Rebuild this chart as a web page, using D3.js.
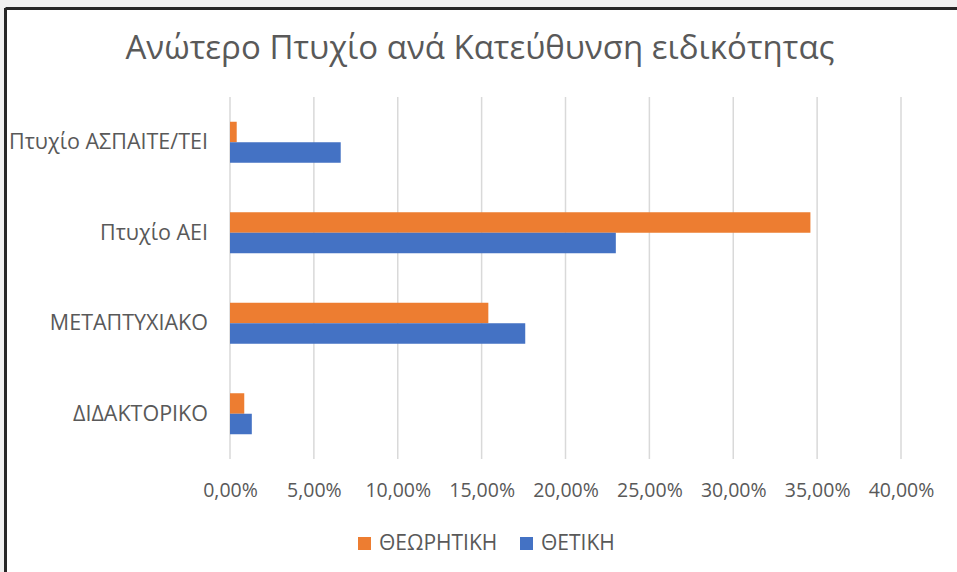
<!DOCTYPE html>
<html>
<head>
<meta charset="utf-8">
<script src="https://cdn.jsdelivr.net/npm/d3@7"></script>
<style>
  body { margin: 0; background: #f0f0f0; }
  svg { display: block; }
  text { font-family: "Open Sans", "Noto Sans", sans-serif; fill: #595959; }
</style>
</head>
<body>
<div id="chart"></div>
<script>
// categories top to bottom
var categories = ["Πτυχίο ΑΣΠΑΙΤΕ/ΤΕΙ", "Πτυχίο ΑΕΙ", "ΜΕΤΑΠΤΥΧΙΑΚΟ", "ΔΙΔΑΚΤΟΡΙΚΟ"];
var seriesNames = ["ΘΕΩΡΗΤΙΚΗ", "ΘΕΤΙΚΗ"];
var theoretikiValues = [0.4, 34.6, 15.4, 0.85];
var thetikiValues = [6.6, 23.0, 17.6, 1.3];
var xTicks = [0, 5, 10, 15, 20, 25, 30, 35, 40];
var colors = ["#ED7D31", "#4472C4"];

function drawChart() {
	var width = 957;
	var height = 572;

	var svg = d3.select("#chart").append("svg")
		.attr("width", width)
		.attr("height", height);

	//chart area with the dark frame on top and left
	svg.append("rect")
		.attr("x", 5)
		.attr("y", 8)
		.attr("width", width)
		.attr("height", height)
		.style("fill", "#ffffff");
	svg.append("line")
		.attr("x1", 5.5).attr("y1", 8.5)
		.attr("x2", width).attr("y2", 8.5)
		.style("stroke", "#262626")
		.style("stroke-width", 3);
	svg.append("line")
		.attr("x1", 5.5).attr("y1", 8)
		.attr("x2", 5.5).attr("y2", height)
		.style("stroke", "#262626")
		.style("stroke-width", 3);

	var x = d3.scaleLinear().domain([0, 40]).range([230, 901]);
	var y = d3.scaleBand().domain(categories).range([97, 459]);
	var inner = d3.scaleBand().domain(seriesNames).range([0, 41]);
	var groupOffset = (y.bandwidth() - 41) / 2;

	//gridlines
	svg.append("g").selectAll("line")
		.data(xTicks)
		.enter().append("line")
		.attr("x1", function(d) { return x(d); })
		.attr("x2", function(d) { return x(d); })
		.attr("y1", 97)
		.attr("y2", 459)
		.style("stroke", "#d9d9d9")
		.style("stroke-width", 1.5);

	//bars
	var series = [theoretikiValues, thetikiValues];
	series.forEach(function(values, i) {
		svg.append("g").selectAll("rect")
			.data(values)
			.enter().append("rect")
			.attr("x", x(0))
			.attr("y", function(d, j) { return y(categories[j]) + groupOffset + inner(seriesNames[i]); })
			.attr("width", function(d) { return x(d) - x(0); })
			.attr("height", inner.bandwidth())
			.style("fill", colors[i]);
	});

	//x axis labels
	var xAxis = d3.axisBottom(x)
		.tickValues(xTicks)
		.tickSize(0)
		.tickPadding(0)
		.tickFormat(function(d) { return d.toFixed(2).replace(".", ",") + "%"; });
	var gx = svg.append("g")
		.attr("transform", "translate(0,483)")
		.call(xAxis);
	gx.select(".domain").remove();
	gx.selectAll("text")
		.style("font-size", "19.5px")
		.style("fill", "#595959")
		.style("font-family", "'Open Sans', sans-serif");

	//y axis labels
	var yAxis = d3.axisLeft(y).tickSize(0).tickPadding(22);
	var gy = svg.append("g")
		.attr("transform", "translate(230,0)")
		.call(yAxis);
	gy.select(".domain").remove();
	gy.selectAll("text")
		.style("font-size", "21.5px")
		.style("fill", "#595959")
		.style("font-family", "'Open Sans', sans-serif");

	//title
	svg.append("text")
		.attr("x", 480)
		.attr("y", 59)
		.attr("text-anchor", "middle")
		.style("font-size", "33px")
		.text("Ανώτερο Πτυχίο ανά Κατεύθυνση ειδικότητας");

	//legend
	var legendX = [358, 520];
	seriesNames.forEach(function(name, i) {
		svg.append("rect")
			.attr("x", legendX[i])
			.attr("y", 537)
			.attr("width", 13)
			.attr("height", 13)
			.style("fill", colors[i]);
		svg.append("text")
			.attr("x", legendX[i] + 21)
			.attr("y", 550)
			.style("font-size", "21px")
			.text(name);
	});
}

drawChart();
</script>
</body>
</html>
